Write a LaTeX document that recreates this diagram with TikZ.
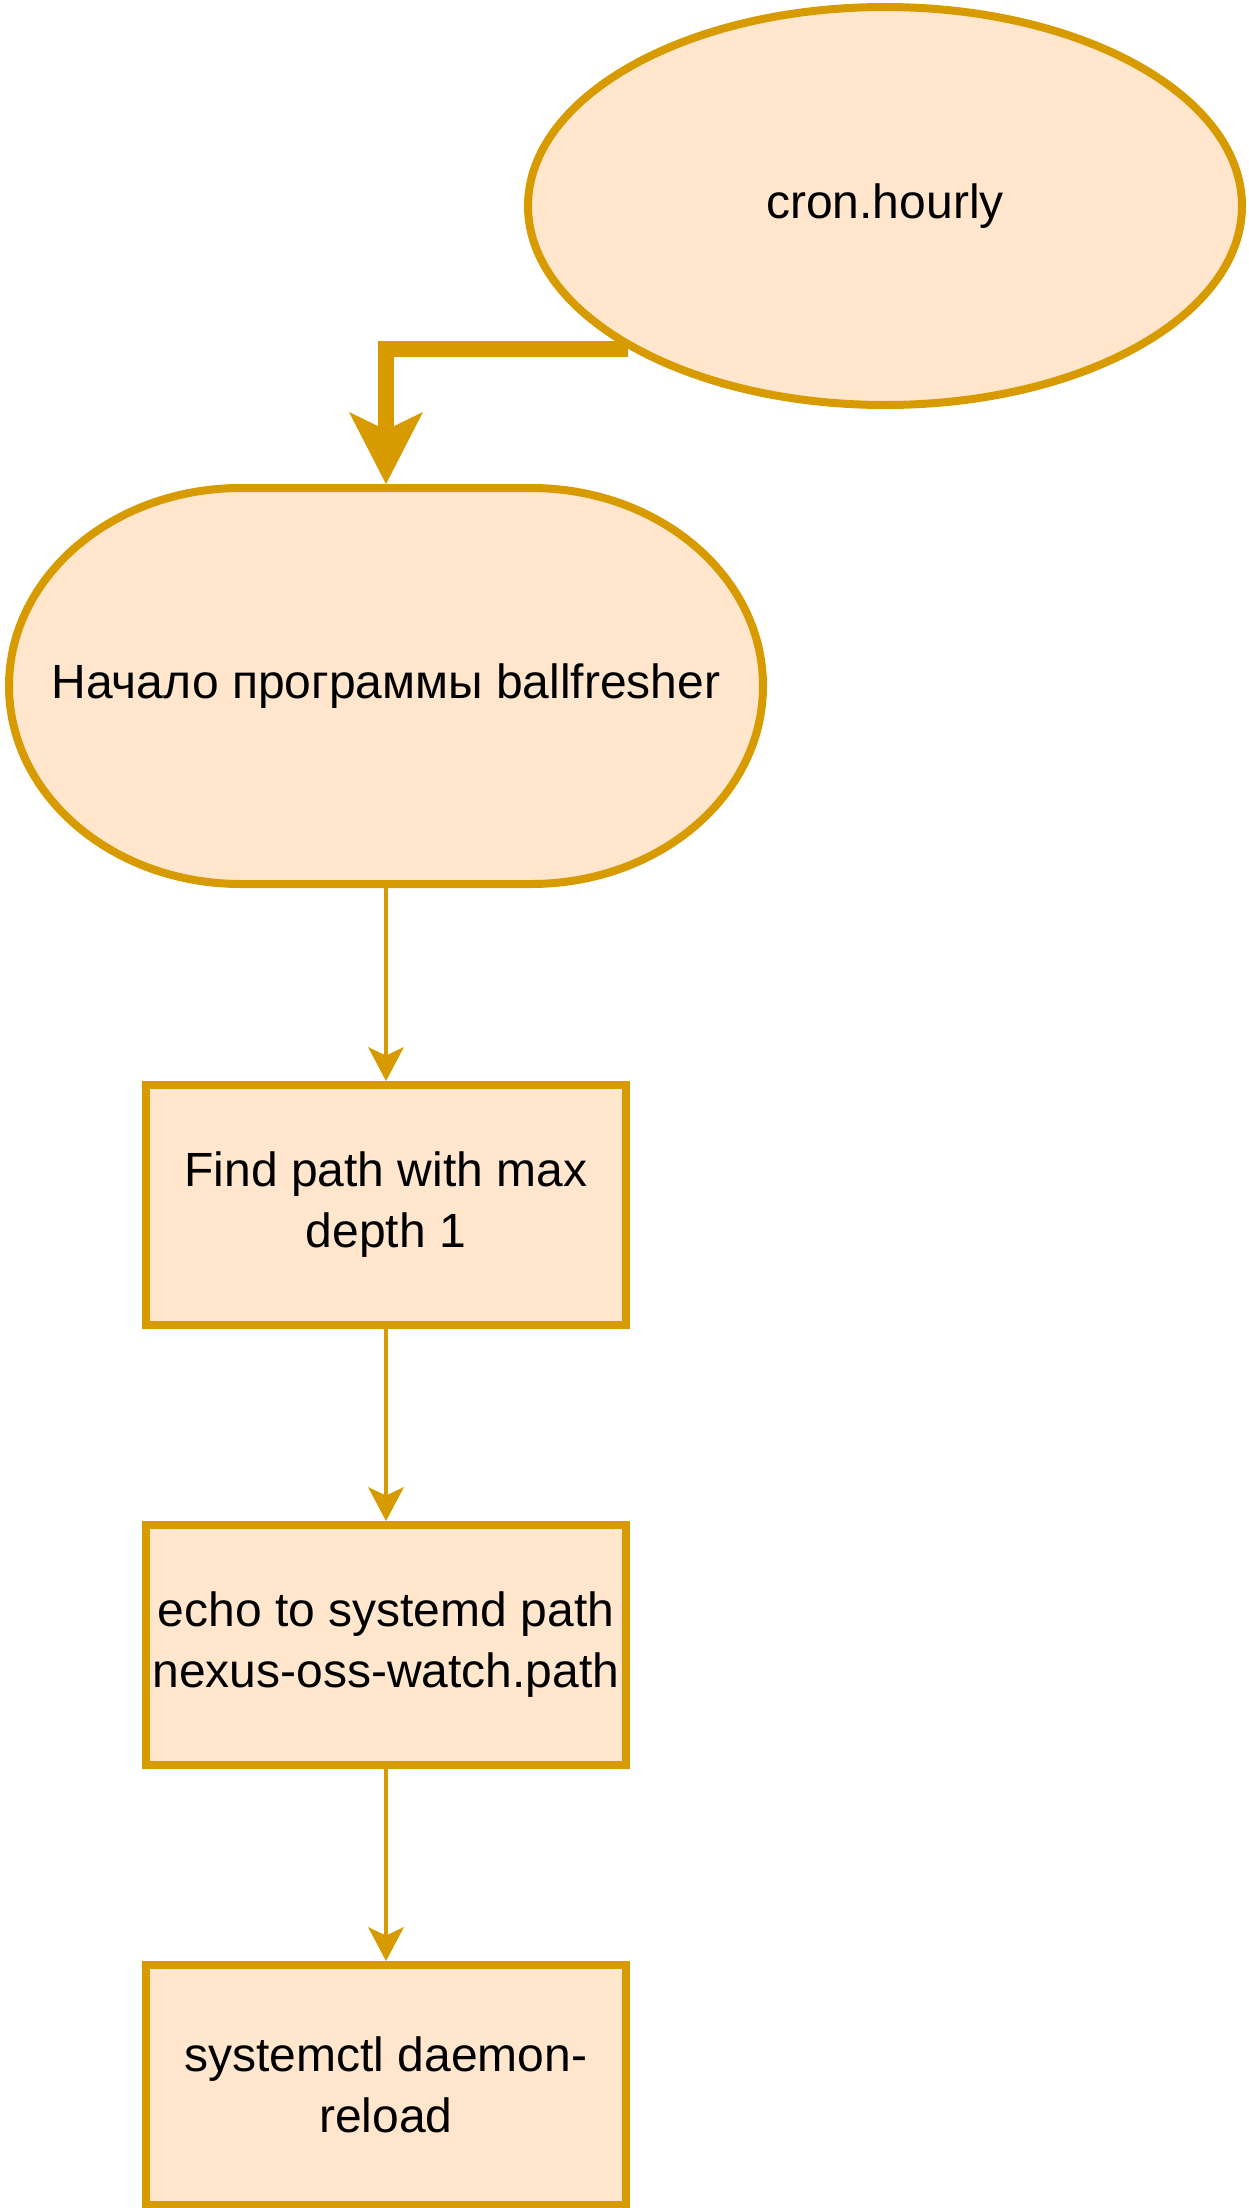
\documentclass[tikz,border=0pt]{standalone}
\usepackage{fontspec}
\setmainfont{Liberation Sans}
\usetikzlibrary{shapes.geometric,arrows.meta}
\definecolor{ofill}{HTML}{FFE6CC}
\definecolor{ostroke}{HTML}{D79B00}
\tikzset{
  lbl/.style={font=\fontsize{48}{61}\selectfont, align=center, text=black},
  procbox/.style={lbl, draw=ostroke, fill=ofill, line width=8pt, minimum width=480pt, minimum height=240pt, inner sep=0pt},
  thinarrow/.style={draw=ostroke, line width=4pt, -{Stealth[length=34pt 0, width=36pt 0, inset=8.5pt 0, line width=0pt]}},
  thickarrow/.style={draw=ostroke, line width=16pt, -{Stealth[length=72pt 0, width=74pt 0, inset=18pt 0, line width=0pt]}},
}
\begin{document}
\begin{tikzpicture}[x=1pt, y=-1pt]
\useasboundingbox (0,0) rectangle (1248,2208);
% cron ellipse
\node[ellipse, lbl, draw=ostroke, fill=ofill, line width=8pt, minimum width=714pt, minimum height=398pt, inner sep=0pt] (cron) at (885,206) {cron.hourly};
% terminator shape
\filldraw[draw=ostroke, fill=ofill, line width=8pt]
  (241,488) -- (531,488)
  arc[start angle=90, end angle=-90, x radius=232pt, y radius=198pt]
  -- (241,884)
  arc[start angle=270, end angle=90, x radius=232pt, y radius=198pt]
  -- cycle;
\node[lbl, minimum width=754pt, minimum height=396pt, outer sep=4pt, inner sep=0pt] (start) at (386,686) {Начало программы ballfresher};
% boxes
\node[procbox] (find) at (386,1205) {Find path with max\\depth 1};
\node[procbox] (echo) at (386,1645) {echo to systemd path\\nexus-oss-watch.path};
\node[procbox] (reload) at (386,2085) {systemctl daemon-\\reload};
% connectors
\draw[thickarrow] (cron.209.6) -| (start.north);
\draw[thinarrow] (start.south) -- (find.north);
\draw[thinarrow] (find.south) -- (echo.north);
\draw[thinarrow] (echo.south) -- (reload.north);
\end{tikzpicture}
\end{document}
